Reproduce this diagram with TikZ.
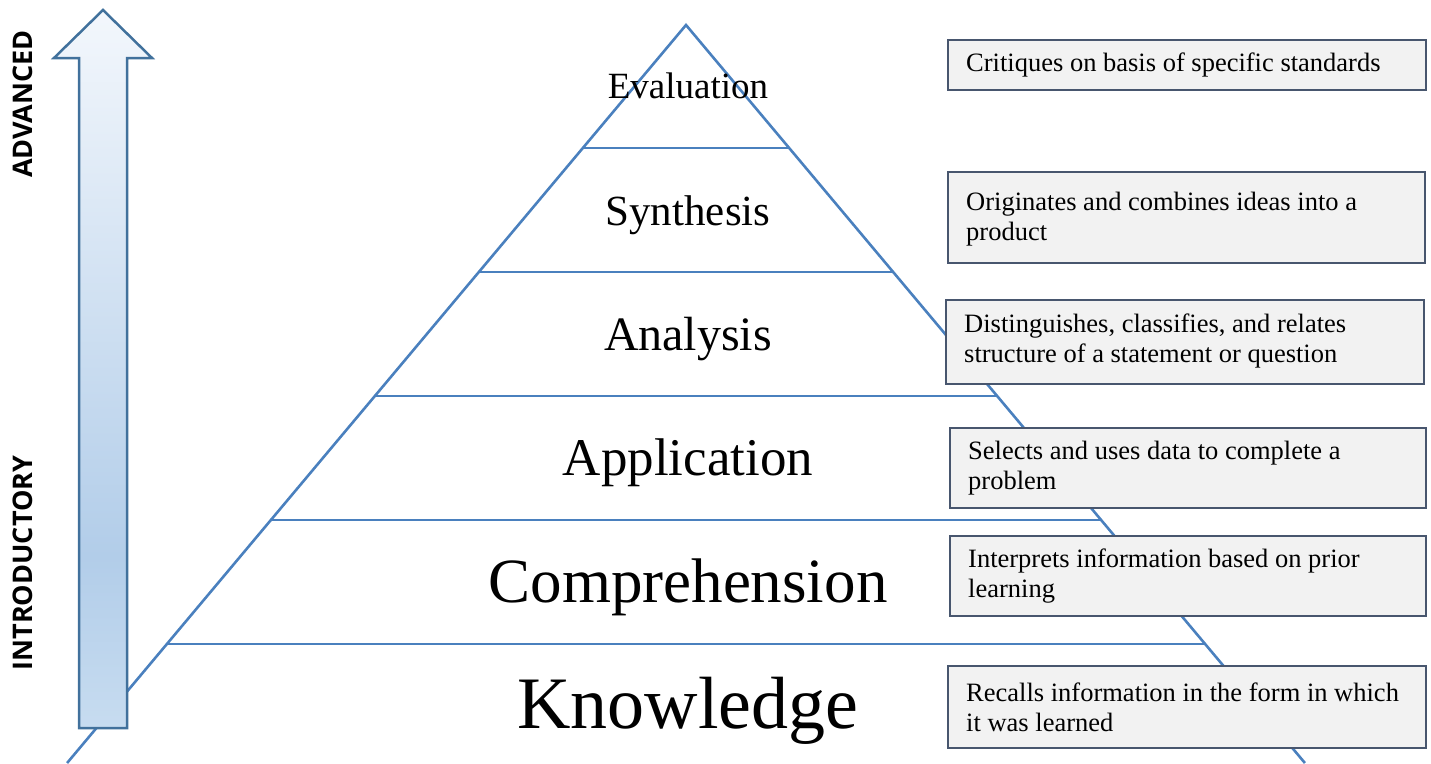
\documentclass[tikz,border=0pt]{standalone}
\usepackage{fontspec}
\setmainfont{Liberation Serif}
\newfontfamily\labelsans{Open Sans}
\definecolor{pyrline}{RGB}{74,128,190}
\definecolor{boxline}{RGB}{72,86,110}
\definecolor{boxfill}{RGB}{242,242,242}
\definecolor{arrline}{RGB}{65,113,156}
\definecolor{arrtop}{RGB}{243,247,252}
\definecolor{arrmid}{RGB}{178,205,233}
\definecolor{arrbot}{RGB}{199,220,240}
\pgfdeclareverticalshading{arrowshade}{100bp}{color(0bp)=(arrbot); color(25bp)=(arrbot); color(37bp)=(arrmid); color(75bp)=(arrtop); color(100bp)=(arrtop)}
\begin{document}
\begin{tikzpicture}[x=1pt,y=-1pt,
  pyr/.style={draw=pyrline,line width=2.6pt},
  descbox/.style={draw=boxline,fill=boxfill,line width=2pt,anchor=north west,inner sep=0pt},
  desctext/.style={anchor=west,inner sep=0pt,align=left,font=\fontsize{26.5}{30}\selectfont},
  level/.style={anchor=base,inner sep=0pt},
  side/.style={rotate=90,inner sep=0pt,font=\labelsans\bfseries\fontsize{27}{30}\selectfont}]
\useasboundingbox (0,0) rectangle (1431,763);
\begin{scope}
\clip (0,0) rectangle (1431,763);
% pyramid
\coordinate (apex) at (686,25);
\coordinate (bl) at (67.1,763);
\coordinate (br) at (1304.9,763);
\draw[pyr,line join=miter] (bl) -- (apex) -- (br);
\coordinate (l1) at (582.9,148);  \coordinate (r1) at (789.1,148);
\coordinate (l2) at (478.9,272);  \coordinate (r2) at (893.1,272);
\coordinate (l3) at (374.9,396);  \coordinate (r3) at (997.1,396);
\coordinate (l4) at (270.9,520);  \coordinate (r4) at (1101.1,520);
\coordinate (l5) at (166.9,644);  \coordinate (r5) at (1205.1,644);
\foreach \i in {1,...,5} \draw[pyr] (l\i) -- (r\i);
\end{scope}
% level labels
\node[level,font=\fontsize{37}{40}\selectfont] (eval) at (688,98) {Evaluation};
\node[level,font=\fontsize{43}{46}\selectfont] (synt) at (688,225) {Synthesis};
\node[level,font=\fontsize{48}{52}\selectfont] (anal) at (688,350) {Analysis};
\node[level,font=\fontsize{53}{56}\selectfont] (appl) at (688,475) {Application};
\node[level,font=\fontsize{63}{66}\selectfont] (comp) at (688,602) {Comprehension};
\node[level,font=\fontsize{74}{78}\selectfont] (know) at (688,728) {Knowledge};
% arrow
\draw[arrline,line width=2.5pt,line join=miter,shading=arrowshade]
  (103,10) -- (152,58) -- (127,58) -- (127,728) -- (79,728) -- (79,58) -- (54,58) -- cycle;
\node[side] (adv) at (23,104) {ADVANCED};
\node[side] (intro) at (23,563) {INTRODUCTORY};
% description boxes
\node[descbox,minimum width=478pt,minimum height=50pt] (d1) at (947,39) {};
\node[desctext] (t1) at ([xshift=19pt]d1.west) {Critiques on basis of specific standards};
\node[descbox,minimum width=477pt,minimum height=91pt] (d2) at (947,171) {};
\node[desctext] (t2) at ([xshift=19pt,yshift=-2pt]d2.west) {Originates and combines ideas into a\\product};
\node[descbox,minimum width=478pt,minimum height=84pt] (d3) at (945,299) {};
\node[desctext] (t3) at ([xshift=19pt,yshift=1pt]d3.west) {Distinguishes, classifies, and relates\\structure of a statement or question};
\node[descbox,minimum width=476pt,minimum height=80pt] (d4) at (949,427) {};
\node[desctext] (t4) at ([xshift=19pt]d4.west) {Selects and uses data to complete a\\problem};
\node[descbox,minimum width=476pt,minimum height=80pt] (d5) at (949,535) {};
\node[desctext] (t5) at ([xshift=19pt]d5.west) {Interprets information based on prior\\learning};
\node[descbox,minimum width=478pt,minimum height=82pt] (d6) at (947,665) {};
\node[desctext] (t6) at ([xshift=19pt]d6.west) {Recalls information in the form in which\\it was learned};
\end{tikzpicture}
\end{document}
